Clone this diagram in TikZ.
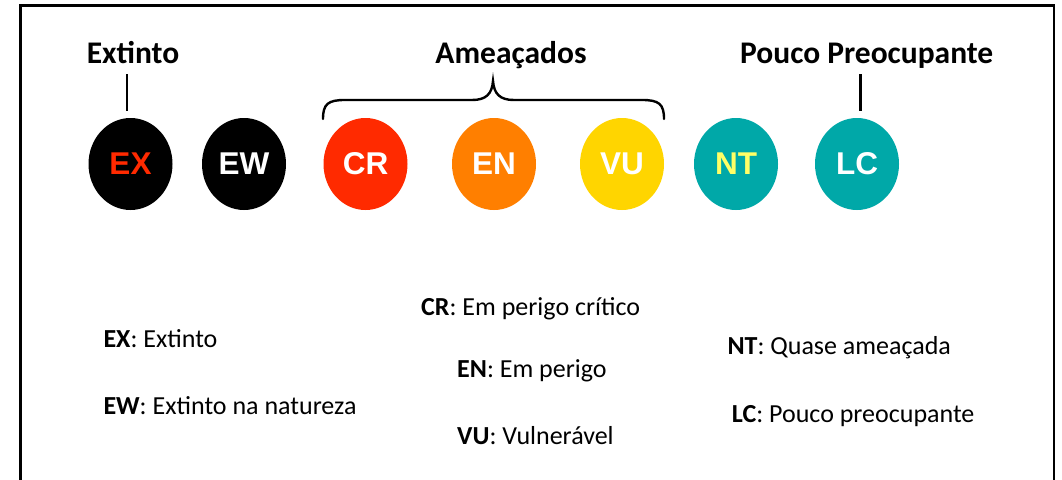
\documentclass[tikz,border=0pt]{standalone}
\usepackage{fontspec}
\setmainfont{Carlito}
\newfontfamily\arialb{Liberation Sans}[BoldFont={Liberation Sans Bold}]
\usetikzlibrary{shapes.geometric}
\definecolor{exred}{HTML}{FF2A00}
\definecolor{enor}{HTML}{FF7F00}
\definecolor{vuyel}{HTML}{FFD500}
\definecolor{teal2}{HTML}{00A8A8}
\definecolor{ntyel}{HTML}{FFFF66}
\tikzset{
  circ/.style={ellipse, minimum width=84pt, minimum height=92pt, inner sep=0pt, text=white,
     font=\arialb\bfseries\fontsize{31.5}{34}\selectfont},
  head/.style={anchor=base, inner sep=0pt, font=\bfseries\fontsize{31.5}{35}\selectfont},
  desc/.style={anchor=base west, inner sep=0pt, font=\fontsize{26}{30}\selectfont},
  tick/.style={line width=2.6pt},
}
\begin{document}
\begin{tikzpicture}[x=1pt,y=-1pt]
\useasboundingbox (0,0) rectangle (1062,479);
\fill[white] (0,0) rectangle (1062,479);
% frame (open at bottom)
\draw[line width=2.5pt] (20.5,480) -- (20.5,5.5) -- (1054,5.5) -- (1054,480);

% circles
\node[circ, fill=black, text=exred] (ex) at (130.5,164) {EX};
\node[circ, fill=black] (ew) at (244,164) {EW};
\node[circ, fill=exred] (cr) at (365.5,164) {CR};
\node[circ, fill=enor] (en) at (494,164) {EN};
\node[circ, fill=vuyel] (vu) at (622,164) {VU};
\node[circ, fill=teal2, text=ntyel] (nt) at (736,164) {NT};
\node[circ, fill=teal2] (lc) at (857,164) {LC};

% headings
\node[head] (hex) at (133,63.3) {Extinto};
\node[head] (ham) at (511,63.3) {Ameaçados};
\node[head] (hlc) at (866.7,63.3) {Pouco Preocupante};

% ticks
\coordinate (t1a) at (127,74);
\coordinate (t1b) at (127,111);
\coordinate (t2a) at (860.5,74);
\coordinate (t2b) at (860.5,111);
\draw[tick] (t1a) -- (t1b);
\draw[tick] (t2a) -- (t2b);

% brace
\coordinate (bl) at (323,119);
\coordinate (bt) at (493,81);
\coordinate (br) at (664,119);
\draw[line width=2.4pt, line cap=round]
  (bl) .. controls (323,104) and (328,100) .. (345,100)
  -- (472,100) .. controls (486,100) and (492,94) .. (bt)
  .. controls (494,94) and (500,100) .. (514,100)
  -- (642,100) .. controls (659,100) and (664,104) .. (br);

% descriptions
\node[desc] (dex) at (103.3,347.3) {\textbf{EX}: Extinto};
\node[desc] (dew) at (103.3,414.3) {\textbf{EW}: Extinto na natureza};
\node[desc] (dcr) at (421,315.5) {\textbf{CR}: Em perigo crítico};
\node[desc] (den) at (457,377.3) {\textbf{EN}: Em perigo};
\node[desc] (dvu) at (457,444.5) {\textbf{VU}: Vulnerável};
\node[desc] (dnt) at (727.3,354) {\textbf{NT}: Quase ameaçada};
\node[desc] (dlc) at (731.7,422.7) {\textbf{LC}: Pouco preocupante};
\end{tikzpicture}
\end{document}
